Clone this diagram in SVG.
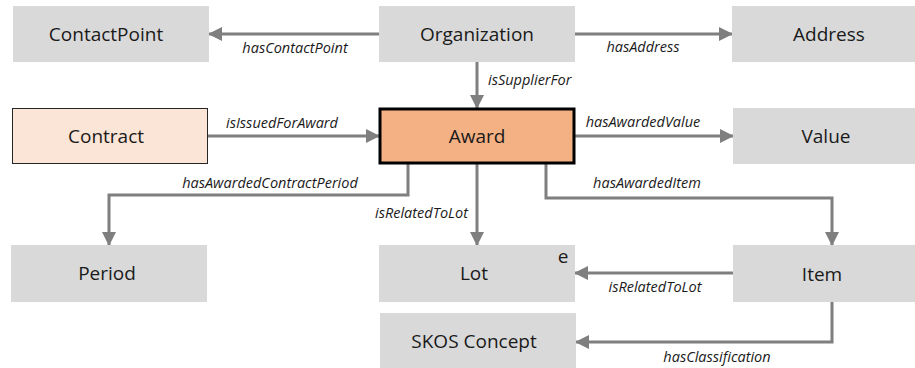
<svg xmlns="http://www.w3.org/2000/svg" width="915" height="368" viewBox="0 0 915 368">
<defs>
<marker id="ah" markerWidth="14" markerHeight="14" refX="13" refY="7" orient="auto" markerUnits="userSpaceOnUse" viewBox="0 0 14 14">
<path d="M0,0 L14,7 L0,14 Z" fill="#7f7f7f"/>
</marker>
<style>
.box{fill:#d9d9d9;stroke:none}
.nt{font-family:"Open Sans","Liberation Sans",sans-serif;font-size:19px;fill:#1a1a1a;text-anchor:middle;dominant-baseline:central}
.lb{font-family:"Open Sans","Liberation Sans",sans-serif;font-size:14.5px;font-style:italic;fill:#1a1a1a}
.cn{fill:none;stroke:#7f7f7f;stroke-width:3;marker-end:url(#ah)}
</style>
</defs>
<rect width="915" height="368" fill="#ffffff"/>
<g id="connectors">
<path class="cn" d="M379,34 L209,34"/>
<path class="cn" d="M575,34 L732,34"/>
<path class="cn" d="M477,62 L477,108"/>
<path class="cn" d="M208,136 L379,136"/>
<path class="cn" d="M575,136 L733,136"/>
<path class="cn" d="M408,164 L408,195 L109,195 L109,245"/>
<path class="cn" d="M477,164 L477,245"/>
<path class="cn" d="M546,164 L546,198 L832,198 L832,245"/>
<path class="cn" d="M733,273 L575,273"/>
<path class="cn" d="M832,302 L832,342 L576,342"/>
<text class="lb" x="295" y="53" text-anchor="middle">hasContactPoint</text>
<text class="lb" x="643" y="52" text-anchor="middle">hasAddress</text>
<text class="lb" x="488" y="85">isSupplierFor</text>
<text class="lb" x="282" y="128" text-anchor="middle">isIssuedForAward</text>
<text class="lb" x="643" y="127" text-anchor="middle">hasAwardedValue</text>
<text class="lb" x="270" y="188" text-anchor="middle">hasAwardedContractPeriod</text>
<text class="lb" x="468" y="218" text-anchor="end">isRelatedToLot</text>
<text class="lb" x="647" y="188" text-anchor="middle">hasAwardedItem</text>
<text class="lb" x="655" y="292" text-anchor="middle">isRelatedToLot</text>
<text class="lb" x="717" y="362" text-anchor="middle">hasClassification</text>
</g>
<g id="ContactPoint"><rect class="box" x="13" y="6" width="196" height="56"/><text class="nt" x="106" y="34">ContactPoint</text></g>
<g id="Organization"><rect class="box" x="379" y="6" width="196" height="56"/><text class="nt" x="477" y="34">Organization</text></g>
<g id="Address"><rect class="box" x="732" y="6" width="196" height="56"/><text class="nt" x="829" y="34">Address</text></g>
<g id="Contract"><rect x="12.5" y="108.5" width="195" height="55" fill="#fbe5d6" stroke="#262626" stroke-width="1"/><text class="nt" x="106" y="136">Contract</text></g>
<g id="Award"><rect x="380" y="109" width="194" height="54" fill="#f4b183" stroke="#000000" stroke-width="3"/><text class="nt" x="477" y="136">Award</text></g>
<g id="Value"><rect class="box" x="733" y="108" width="196" height="56"/><text class="nt" x="826" y="136">Value</text></g>
<g id="Period"><rect class="box" x="11" y="245" width="196" height="57"/><text class="nt" x="107" y="273">Period</text></g>
<g id="Lot"><rect class="box" x="379" y="245" width="196" height="57"/><text class="nt" x="474" y="273">Lot</text><text class="nt" x="563" y="256">e</text></g>
<g id="Item"><rect class="box" x="733" y="245" width="196" height="57"/><text class="nt" x="822" y="274">Item</text></g>
<g id="SKOSConcept"><rect class="box" x="380" y="313" width="196" height="56"/><text class="nt" x="474" y="341">SKOS Concept</text></g>
</svg>
